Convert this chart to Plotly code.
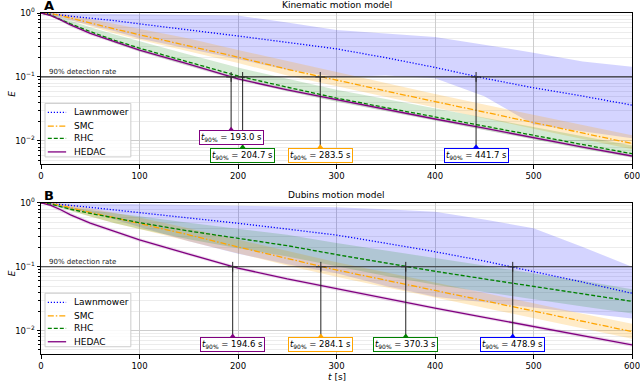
import math
import plotly.graph_objects as go

# ---------------- data ----------------
T = [0, 10, 20, 30, 50, 75, 100, 150, 200, 250, 300, 350, 400, 450, 500, 550, 600]

# Panel A: Kinematic motion model
LAWN_A = [1.0, 0.977, 0.933, 0.891, 0.832, 0.759, 0.676, 0.550, 0.437, 0.347, 0.275, 0.200, 0.141, 0.0955, 0.0676, 0.0501, 0.0363]
LAWN_A_HI = [1.0, 1.0, 0.99, 0.98, 0.977, 0.966, 0.955, 0.944, 0.912, 0.708, 0.54, 0.48, 0.42, 0.32, 0.24, 0.174, 0.145]
LAWN_A_LO = [1.0, 0.93, 0.85, 0.78, 0.65, 0.52, 0.40, 0.28, 0.19, 0.13, 0.10, 0.105, 0.095, 0.05, 0.018, 0.014, 0.011]
SMC_A = [1.0, 0.977, 0.912, 0.832, 0.692, 0.562, 0.457, 0.309, 0.204, 0.132, 0.0881, 0.0603, 0.0412, 0.0282, 0.0193, 0.0132, 0.0091]
SMC_A_HI = [1.0, 1.0, 0.98, 0.92, 0.80, 0.68, 0.57, 0.40, 0.265, 0.178, 0.118, 0.080, 0.054, 0.037, 0.0255, 0.0175, 0.0122]
SMC_A_LO = [1.0, 0.95, 0.86, 0.76, 0.62, 0.48, 0.38, 0.25, 0.165, 0.105, 0.070, 0.048, 0.033, 0.0225, 0.0155, 0.0106, 0.0074]
RHC_A = [1.0, 0.93, 0.79, 0.676, 0.513, 0.372, 0.282, 0.170, 0.1035, 0.0692, 0.0468, 0.0331, 0.0237, 0.0170, 0.0122, 0.0087, 0.0063]
RHC_A_HI = [1.0, 0.96, 0.86, 0.76, 0.60, 0.46, 0.36, 0.225, 0.14, 0.094, 0.063, 0.045, 0.032, 0.023, 0.0165, 0.0118, 0.0085]
RHC_A_LO = [1.0, 0.90, 0.75, 0.63, 0.47, 0.335, 0.25, 0.150, 0.090, 0.060, 0.041, 0.029, 0.0205, 0.0147, 0.0105, 0.0075, 0.0055]
HEDAC_A = [1.0, 0.91, 0.78, 0.65, 0.48, 0.355, 0.263, 0.158, 0.093, 0.063, 0.044, 0.031, 0.022, 0.0158, 0.0112, 0.0080, 0.0058]
HEDAC_A_HI = [1.0, 0.95, 0.83, 0.69, 0.51, 0.375, 0.278, 0.167, 0.098, 0.0665, 0.0465, 0.0328, 0.0233, 0.0167, 0.0118, 0.0085, 0.0062]
HEDAC_A_LO = [1.0, 0.87, 0.74, 0.61, 0.45, 0.335, 0.248, 0.149, 0.088, 0.0595, 0.0415, 0.0293, 0.0208, 0.0149, 0.0106, 0.0076, 0.0055]

# Panel B: Dubins motion model
LAWN_B = [1.0, 0.977, 0.944, 0.912, 0.851, 0.776, 0.70, 0.582, 0.479, 0.389, 0.313, 0.234, 0.172, 0.123, 0.0851, 0.0575, 0.0385]
LAWN_B_HI = [1.0, 1.0, 1.0, 0.99, 0.977, 0.966, 0.955, 0.933, 0.912, 0.891, 0.851, 0.794, 0.724, 0.55, 0.40, 0.204, 0.10]
LAWN_B_LO = [1.0, 0.93, 0.85, 0.79, 0.71, 0.55, 0.42, 0.25, 0.16, 0.11, 0.079, 0.05, 0.034, 0.028, 0.0234, 0.019, 0.0155]
SMC_B = [1.0, 0.977, 0.912, 0.832, 0.708, 0.582, 0.479, 0.316, 0.204, 0.135, 0.0891, 0.0617, 0.0427, 0.0295, 0.0204, 0.0140, 0.0097]
SMC_B_HI = [1.0, 1.0, 0.98, 0.93, 0.82, 0.70, 0.59, 0.40, 0.265, 0.178, 0.118, 0.082, 0.057, 0.039, 0.027, 0.0185, 0.0128]
SMC_B_LO = [1.0, 0.95, 0.85, 0.75, 0.61, 0.48, 0.39, 0.25, 0.160, 0.105, 0.070, 0.048, 0.033, 0.0228, 0.0158, 0.0108, 0.0075]
RHC_B = [1.0, 0.955, 0.871, 0.794, 0.684, 0.575, 0.490, 0.363, 0.275, 0.214, 0.155, 0.1135, 0.0851, 0.0646, 0.0495, 0.0380, 0.0288]
RHC_B_HI = [1.0, 0.977, 0.912, 0.851, 0.767, 0.691, 0.617, 0.490, 0.389, 0.316, 0.235, 0.180, 0.138, 0.105, 0.0785, 0.0602, 0.0446]
RHC_B_LO = [1.0, 0.934, 0.832, 0.741, 0.610, 0.478, 0.389, 0.269, 0.195, 0.145, 0.102, 0.0716, 0.0525, 0.0398, 0.0312, 0.0240, 0.0186]
HEDAC_B = [1.0, 0.91, 0.78, 0.65, 0.48, 0.355, 0.263, 0.158, 0.0955, 0.0646, 0.0452, 0.0316, 0.0226, 0.0162, 0.0116, 0.0083, 0.0060]
HEDAC_B_HI = [1.0, 0.96, 0.83, 0.70, 0.515, 0.38, 0.28, 0.168, 0.101, 0.0685, 0.048, 0.0335, 0.024, 0.0172, 0.0123, 0.0088, 0.0064]
HEDAC_B_LO = [1.0, 0.86, 0.73, 0.61, 0.45, 0.333, 0.247, 0.148, 0.090, 0.0608, 0.0425, 0.0297, 0.0212, 0.0152, 0.0109, 0.0078, 0.0056]

METHODS = ["Lawnmower", "SMC", "RHC", "HEDAC"]
T90_A = [441.7, 283.5, 204.7, 193.0]
T90_B = [478.9, 284.1, 370.3, 194.6]
DETECTION_LEVEL = 0.1

PANEL_TITLES = ["Kinematic motion model", "Dubins motion model"]
PANEL_LETTERS = ["A", "B"]
X_TICKS = [0, 100, 200, 300, 400, 500, 600]
Y_TICKVALS = [1, 0.1, 0.01]
Y_TICKTEXT = ["10<sup>0</sup>", "10<sup>−1</sup>", "10<sup>−2</sup>"]

# ---------------- styles ----------------
FONT = "DejaVu Sans"
LINE_COL = {"Lawnmower": "#0000ff", "SMC": "#ffa500", "RHC": "#008000", "HEDAC": "#800080"}
BAND_COL = {"Lawnmower": "rgba(0,0,255,0.17)", "SMC": "rgba(255,165,0,0.22)",
            "RHC": "rgba(0,128,0,0.17)", "HEDAC": "rgba(128,0,128,0.15)"}
DASH = {"Lawnmower": "1.2px,1.8px", "SMC": "6px,2px,1.5px,2px", "RHC": "4px,2px", "HEDAC": "solid"}
# triangle / label heights (layout positions)
TRI_Y_A = [0.0078, 0.0078, 0.0078, 0.0147]
LAB_Y_A = [0.0060, 0.0060, 0.0060, 0.01135]
TRI_Y_B = [0.0080, 0.0080, 0.0080, 0.0080]
LAB_Y_B = [0.0061, 0.0061, 0.0061, 0.0061]

panels = [
    dict(mean=[LAWN_A, SMC_A, RHC_A, HEDAC_A], hi=[LAWN_A_HI, SMC_A_HI, RHC_A_HI, HEDAC_A_HI],
         lo=[LAWN_A_LO, SMC_A_LO, RHC_A_LO, HEDAC_A_LO], t90=T90_A, tri=TRI_Y_A, lab=LAB_Y_A,
         xa="x", ya="y"),
    dict(mean=[LAWN_B, SMC_B, RHC_B, HEDAC_B], hi=[LAWN_B_HI, SMC_B_HI, RHC_B_HI, HEDAC_B_HI],
         lo=[LAWN_B_LO, SMC_B_LO, RHC_B_LO, HEDAC_B_LO], t90=T90_B, tri=TRI_Y_B, lab=LAB_Y_B,
         xa="x2", ya="y2"),
]

fig = go.Figure()
annotations = []
shapes = []

# compact legend layout (fractions of each panel's domain)
LEG_BOX = dict(x0=0.0068, x1=0.152, y0=0.048, y1=0.402)
LEG_ROWS = [0.342, 0.252, 0.170, 0.081]
LEG_LINE_X = [0.0115, 0.0425]
LEG_TEXT_X = 0.053

for pi, p in enumerate(panels):
    xa, ya = p["xa"], p["ya"]
    # bands
    for mi, m in enumerate(METHODS):
        fig.add_trace(go.Scatter(
            x=T + T[::-1], y=p["hi"][mi] + p["lo"][mi][::-1],
            fill="toself", fillcolor=BAND_COL[m], line=dict(width=0),
            mode="lines", hoverinfo="skip", showlegend=False, xaxis=xa, yaxis=ya))
    # lines
    for mi, m in enumerate(METHODS):
        fig.add_trace(go.Scatter(
            x=T, y=p["mean"][mi], mode="lines", name=m,
            line=dict(color=LINE_COL[m], width=1.3, dash=DASH[m]),
            showlegend=False, xaxis=xa, yaxis=ya))
    # detection-rate horizontal line
    shapes.append(dict(type="line", xref=f"{xa} domain", yref=ya, x0=0, x1=1,
                       y0=DETECTION_LEVEL, y1=DETECTION_LEVEL,
                       line=dict(color="#333333", width=1.2)))
    annotations.append(dict(x=6, y=math.log10(DETECTION_LEVEL), xref=xa, yref=ya,
                            text="90% detection rate", showarrow=False,
                            xanchor="left", yanchor="bottom", yshift=-1,
                            font=dict(size=7, color="#222222", family=FONT)))
    # t90 markers
    for mi, m in enumerate(METHODS):
        t9 = p["t90"][mi]
        fig.add_trace(go.Scatter(x=[t9, t9], y=[DETECTION_LEVEL, p["tri"][mi]], mode="lines",
                                 line=dict(color="#222222", width=1), showlegend=False,
                                 hoverinfo="skip", xaxis=xa, yaxis=ya))
        fig.add_trace(go.Scatter(x=[t9], y=[p["tri"][mi]], mode="markers",
                                 marker=dict(symbol="triangle-up", size=7, color=LINE_COL[m]),
                                 showlegend=False, hoverinfo="skip", xaxis=xa, yaxis=ya))
        fig.add_trace(go.Scatter(x=[t9], y=[DETECTION_LEVEL], mode="markers",
                                 marker=dict(symbol="cross-thin", size=7,
                                             line=dict(color="#222222", width=1)),
                                 showlegend=False, hoverinfo="skip", xaxis=xa, yaxis=ya))
        annotations.append(dict(x=t9, y=math.log10(p["lab"][mi]), xref=xa, yref=ya,
                                text=f"<i>t</i><sub>90%</sub> = {t9:.1f} s", showarrow=False,
                                font=dict(size=8.5, color="black", family=FONT),
                                bgcolor="white", bordercolor=LINE_COL[m], borderwidth=1,
                                borderpad=1))
    # legend (drawn compactly like the reference)
    shapes.append(dict(type="rect", xref=f"{xa} domain", yref=f"{ya} domain",
                       x0=LEG_BOX["x0"], x1=LEG_BOX["x1"], y0=LEG_BOX["y0"], y1=LEG_BOX["y1"],
                       fillcolor="rgba(255,255,255,0.85)", line=dict(color="#cccccc", width=1),
                       layer="above"))
    for mi, m in enumerate(METHODS):
        shapes.append(dict(type="line", xref=f"{xa} domain", yref=f"{ya} domain",
                           x0=LEG_LINE_X[0], x1=LEG_LINE_X[1], y0=LEG_ROWS[mi], y1=LEG_ROWS[mi],
                           line=dict(color=LINE_COL[m], width=1.3, dash=DASH[m]), layer="above"))
        annotations.append(dict(x=LEG_TEXT_X, y=LEG_ROWS[mi], xref=f"{xa} domain",
                                yref=f"{ya} domain", text=m, showarrow=False,
                                xanchor="left", yanchor="middle",
                                font=dict(size=9, color="black", family=FONT)))

# titles, panel letters, axis labels
TITLE_Y = [1.023, 0.466]
for i in range(2):
    annotations.append(dict(x=0.5, y=TITLE_Y[i], xref="paper", yref="paper",
                            text=PANEL_TITLES[i], showarrow=False, xanchor="center",
                            yanchor="middle", font=dict(size=9, color="black", family=FONT)))
    annotations.append(dict(x=0.002, y=TITLE_Y[i] - 0.002, xref="paper", yref="paper",
                            text=f"<b>{PANEL_LETTERS[i]}</b>", showarrow=False,
                            xanchor="left", yanchor="middle",
                            font=dict(size=13, color="black", family=FONT)))
annotations.append(dict(x=-0.061, y=0.778, xref="paper", yref="paper", text="<i>E</i>",
                        showarrow=False, textangle=-90, font=dict(size=9, family=FONT, color="black")))
annotations.append(dict(x=-0.061, y=0.222, xref="paper", yref="paper", text="<i>E</i>",
                        showarrow=False, textangle=-90, font=dict(size=9, family=FONT, color="black")))
annotations.append(dict(x=0.5, y=-0.066, xref="paper", yref="paper", text="<i>t</i> [s]",
                        showarrow=False, yanchor="middle",
                        font=dict(size=9, family=FONT, color="black")))

MINOR_Y = [0.005, 0.006, 0.007, 0.008, 0.009, 0.02, 0.03, 0.04, 0.05, 0.06, 0.07, 0.08, 0.09,
           0.2, 0.3, 0.4, 0.5, 0.6, 0.7, 0.8, 0.9]

xaxis_style = dict(range=[0, 600], tickvals=X_TICKS, showline=True, linecolor="black",
                   linewidth=1, mirror=True, ticks="outside", ticklen=3.5, tickcolor="black",
                   showgrid=True, gridcolor="#cdcdcd", gridwidth=1.2, zeroline=False,
                   automargin=False, ticklabeloverflow="allow",
                   tickfont=dict(size=8.5, family=FONT, color="black"))
yaxis_style = dict(type="log", range=[-2.364, 0], tickvals=Y_TICKVALS, ticktext=Y_TICKTEXT,
                   showline=True, linecolor="black", linewidth=1, mirror=True, ticks="outside",
                   ticklen=3.5, tickcolor="black", showgrid=True, gridcolor="#cdcdcd",
                   gridwidth=1.2, zeroline=False, automargin=False,
                   tickfont=dict(size=8.5, family=FONT, color="black"),
                   minor=dict(tickvals=MINOR_Y, showgrid=True, gridcolor="#ececec",
                              gridwidth=1, ticks="outside", ticklen=2, tickcolor="black"))

fig.update_layout(
    width=640, height=382,
    margin=dict(l=41, r=8, t=13, b=28, autoexpand=False),
    paper_bgcolor="white", plot_bgcolor="white",
    font=dict(family=FONT, color="black"),
    showlegend=False,
    xaxis=dict(domain=[0, 1], anchor="y", **xaxis_style),
    yaxis=dict(domain=[0.5567, 1], anchor="x", **yaxis_style),
    xaxis2=dict(domain=[0, 1], anchor="y2", **xaxis_style),
    yaxis2=dict(domain=[0, 0.4433], anchor="x2", **yaxis_style),
    annotations=annotations,
    shapes=shapes,
)

fig.write_html("out.html", config={"displayModeBar": False},
               post_script="document.body.style.margin='0';document.body.style.overflow='hidden';")
